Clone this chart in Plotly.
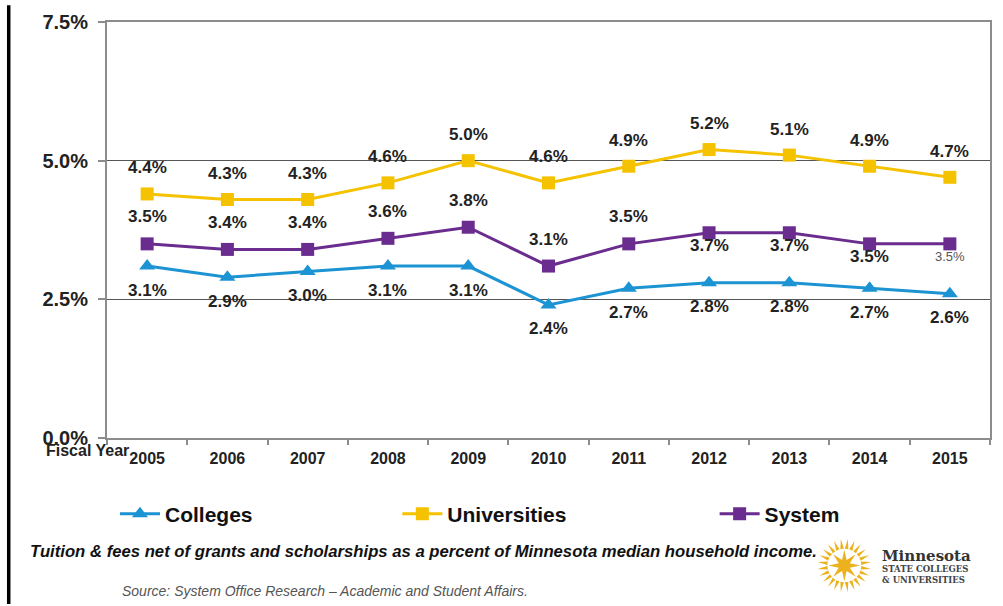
import math
import plotly.graph_objects as go

# Fiscal years and net tuition as % of Minnesota median household income
years = ["2005", "2006", "2007", "2008", "2009", "2010",
         "2011", "2012", "2013", "2014", "2015"]
colleges = [3.1, 2.9, 3.0, 3.1, 3.1, 2.4, 2.7, 2.8, 2.8, 2.7, 2.6]
universities = [4.4, 4.3, 4.3, 4.6, 5.0, 4.6, 4.9, 5.2, 5.1, 4.9, 4.7]
system = [3.5, 3.4, 3.4, 3.6, 3.8, 3.1, 3.5, 3.7, 3.7, 3.5, 3.5]
system_label_below = ["2012", "2013", "2014", "2015"]

y_ticks = [0, 2.5, 5.0, 7.5]
y_tick_text = ["0.0%", "2.5%", "5.0%", "7.5%"]

BLUE = "#1C93D2"
GOLD = "#F5C200"
PURPLE = "#6A2C8E"
FONT = "Liberation Sans, Arial, sans-serif"

W, H = 1003, 606
L, R, T, B = 107, 11, 17, 168
PW, PH = W - L - R, H - T - B


def px(x):
    return (x - L) / PW


def py(y):
    return (H - B - y) / PH


fig = go.Figure()
fig.add_trace(go.Scatter(
    x=years, y=colleges, mode="lines+markers", name="Colleges",
    line=dict(color=BLUE, width=3),
    marker=dict(symbol="triangle-up", size=14, color=BLUE),
    legend="legend"))
fig.add_trace(go.Scatter(
    x=years, y=universities, mode="lines+markers", name="Universities",
    line=dict(color=GOLD, width=3),
    marker=dict(symbol="square", size=13, color=GOLD),
    legend="legend2"))
fig.add_trace(go.Scatter(
    x=years, y=system, mode="lines+markers", name="System",
    line=dict(color=PURPLE, width=3),
    marker=dict(symbol="square", size=13, color=PURPLE),
    legend="legend3"))

label_font = dict(family=FONT, size=17, color="#222222", weight="bold")
annotations = []


def value_label(i, v, shift, font=label_font):
    # category axes take the category index as the annotation position
    annotations.append(dict(x=i, y=v, xref="x", yref="y", text=f"{v:.1f}%",
                            showarrow=False, yshift=shift, font=font))


for i, v in enumerate(universities):
    value_label(i, v, 26)
for i, v in enumerate(colleges):
    value_label(i, v, -24)
for i, (x, v) in enumerate(zip(years, system)):
    if x in system_label_below:
        f = label_font
        if x == years[-1]:
            f = dict(family=FONT, size=13, color="#555555")
        value_label(i, v, -13, f)
    else:
        value_label(i, v, 27)

# axis caption and footnotes
annotations += [
    dict(x=px(87), y=py(451), xref="paper", yref="paper", text="Fiscal Year",
         showarrow=False, xanchor="center", yanchor="middle",
         font=dict(family=FONT, size=16, color="#222222", weight="bold")),
    dict(x=px(28), y=py(553), xref="paper", yref="paper",
         text="<i>Tuition &amp; fees net of grants and scholarships as a percent "
              "of Minnesota median household income.</i>",
         showarrow=False, xanchor="left", yanchor="middle",
         font=dict(family=FONT, size=16.7, color="#111111", weight="bold")),
    dict(x=px(120), y=py(593), xref="paper", yref="paper",
         text="<i>Source: System Office Research \u2013 Academic and Student Affairs.</i>",
         showarrow=False, xanchor="left", yanchor="middle",
         font=dict(family=FONT, size=14, color="#555555")),
    dict(x=px(882), y=py(557), xref="paper", yref="paper", text="Minnesota",
         showarrow=False, xanchor="left", yanchor="middle",
         font=dict(family="DejaVu Serif, serif", size=15, color="#333333", weight="bold")),
    dict(x=px(882), y=py(571), xref="paper", yref="paper", text="STATE COLLEGES",
         showarrow=False, xanchor="left", yanchor="middle",
         font=dict(family="DejaVu Serif, serif", size=8.5, color="#444444", weight="bold")),
    dict(x=px(882), y=py(582), xref="paper", yref="paper", text="&amp; UNIVERSITIES",
         showarrow=False, xanchor="left", yanchor="middle",
         font=dict(family="DejaVu Serif, serif", size=8.5, color="#444444", weight="bold")),
]

# logo: eight-point star inside a ring of rays
cx, cy = 846, 567
LOGO_GOLD = "#ECB21E"


def path_from(points):
    return "M " + " L ".join(f"{px(x):.5f},{py(y):.5f}" for x, y in points) + " Z"


star = []
for k in range(16):
    r = 16 if k % 2 == 0 else 6
    a = math.radians(k * 22.5 - 90)
    star.append((cx + r * math.cos(a), cy + r * math.sin(a)))

shapes = [dict(type="path", xref="paper", yref="paper", path=path_from(star),
               fillcolor=LOGO_GOLD, line=dict(width=0))]
for k in range(24):
    a = math.radians(k * 15 + 7.5)
    da = math.radians(6)
    pts = [(cx + 17 * math.cos(a - da), cy + 17 * math.sin(a - da)),
           (cx + 27 * math.cos(a), cy + 27 * math.sin(a)),
           (cx + 17 * math.cos(a + da), cy + 17 * math.sin(a + da))]
    shapes.append(dict(type="path", xref="paper", yref="paper", path=path_from(pts),
                       fillcolor=LOGO_GOLD, line=dict(width=0)))

# black rule down the left edge of the slide
shapes.append(dict(type="line", xref="paper", yref="paper",
                   x0=px(8.5), x1=px(8.5), y0=py(0), y1=py(H),
                   line=dict(color="#000000", width=3.5)))

legend_common = dict(orientation="h", xanchor="left", yanchor="middle",
                     bgcolor="rgba(0,0,0,0)", borderwidth=0, itemwidth=40,
                     font=dict(family=FONT, size=21, color="#111111", weight="bold"))

fig.update_layout(
    width=W, height=H,
    margin=dict(l=L, r=R, t=T, b=B),
    paper_bgcolor="white", plot_bgcolor="white",
    showlegend=True,
    legend=dict(x=px(115), y=py(515), **legend_common),
    legend2=dict(x=px(398), y=py(515), **legend_common),
    legend3=dict(x=px(716), y=py(515), **legend_common),
    xaxis=dict(type="category", range=[-0.5, 10.5], showgrid=False,
               showline=True, mirror=True, linecolor="#8C8C8C", linewidth=2,
               ticks="outside", tickson="boundaries", ticklen=5,
               tickcolor="#8C8C8C", tickwidth=1.5, ticklabelstandoff=5,
               tickfont=dict(family=FONT, size=16, color="#222222", weight="bold")),
    yaxis=dict(range=[0, 7.5], tickvals=y_ticks, ticktext=y_tick_text,
               showgrid=True, gridcolor="#555555", gridwidth=1.2, zeroline=False,
               showline=True, mirror=True, linecolor="#8C8C8C", linewidth=2,
               ticks="outside", ticklen=7, tickcolor="#8C8C8C", tickwidth=1.5,
               ticklabelstandoff=6,
               tickfont=dict(family=FONT, size=20, color="#222222", weight="bold")),
    annotations=annotations,
    shapes=shapes,
)

fig.write_html("out.html")
